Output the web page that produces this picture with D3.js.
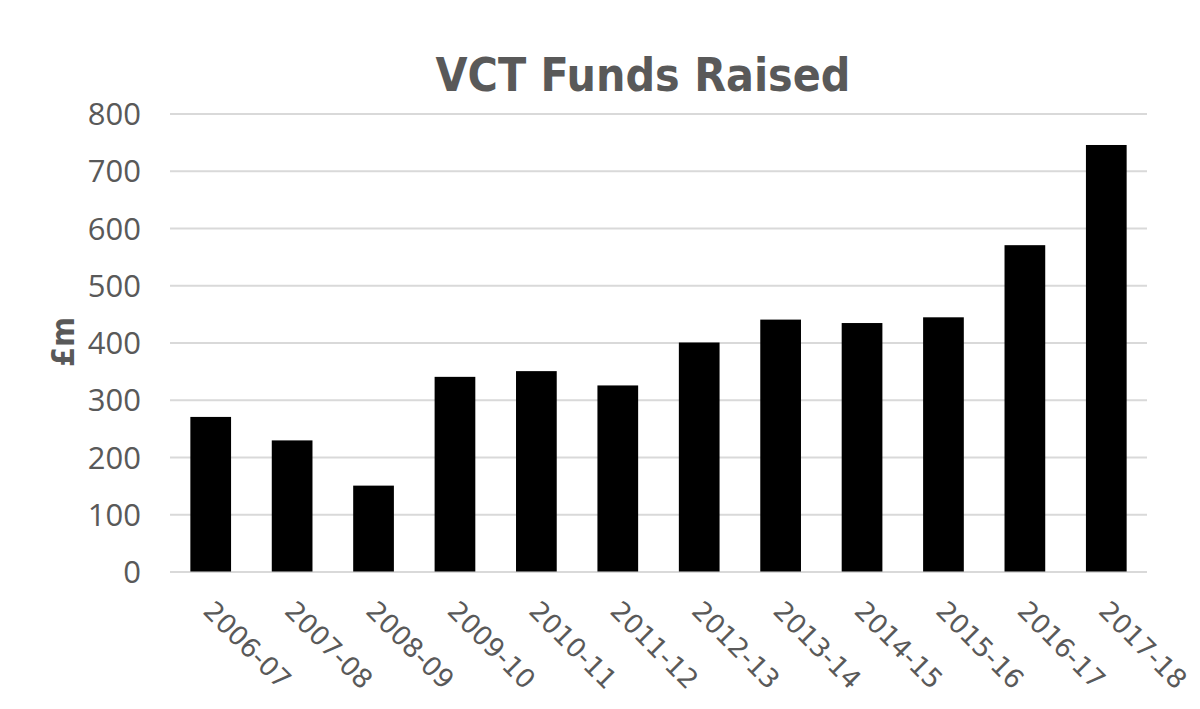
<!DOCTYPE html>
<html>
<head>
<meta charset="utf-8">
<script src="https://cdn.jsdelivr.net/npm/d3@7"></script>
<style>
  body { margin: 0; background: #fff; }
  .y-axis text { font-family: "Open Sans", sans-serif; font-size: 31px; fill: #595959; }
  .x-axis text { font-family: "DejaVu Sans", sans-serif; font-size: 26.5px; fill: #595959; }
</style>
</head>
<body>
<div id="chart"></div>
<script>
// chart data
var years = ["2006-07", "2007-08", "2008-09", "2009-10", "2010-11", "2011-12",
  "2012-13", "2013-14", "2014-15", "2015-16", "2016-17", "2017-18"];
var fundsRaised = [270, 229, 150, 340, 350, 325, 400, 440, 434, 444, 570, 745];
var yTicks = [0, 100, 200, 300, 400, 500, 600, 700, 800];

var svgWidth = 1200;
var svgHeight = 709;

var margin = {
  top: 113.5,
  right: 53,
  bottom: 137.5,
  left: 170
};

var width = svgWidth - margin.left - margin.right;
var height = svgHeight - margin.top - margin.bottom;

var svg = d3.select("#chart")
  .append("svg")
  .attr("width", svgWidth)
  .attr("height", svgHeight);

var chartGroup = svg.append("g")
  .attr("transform", `translate(${margin.left}, ${margin.top})`);

var xBandScale = d3.scaleBand()
  .domain(years)
  .range([0, width])
  .paddingInner(0.5)
  .paddingOuter(0.25);

var yLinearScale = d3.scaleLinear()
  .domain([0, 800])
  .range([height, 0]);

// gridlines + y labels
var leftAxis = d3.axisLeft(yLinearScale)
  .tickValues(yTicks)
  .tickSize(-width)
  .tickPadding(29);

var yAxis = chartGroup.append("g")
  .attr("class", "y-axis")
  .call(leftAxis);
yAxis.select(".domain").remove();
yAxis.selectAll("line")
  .attr("stroke", "#d9d9d9")
  .attr("stroke-width", 2.2);
yAxis.selectAll("text").attr("dy", "0.36em");

// bars
chartGroup.selectAll("rect")
  .data(fundsRaised)
  .enter()
  .append("rect")
  .attr("x", (d, i) => xBandScale(years[i]))
  .attr("y", d => yLinearScale(d))
  .attr("width", xBandScale.bandwidth())
  .attr("height", d => height - yLinearScale(d))
  .attr("fill", "#000");

// x axis, rotated labels
var bottomAxis = d3.axisBottom(xBandScale).tickSize(0);
var xAxis = chartGroup.append("g")
  .attr("class", "x-axis")
  .attr("transform", `translate(0, ${height})`)
  .call(bottomAxis);
xAxis.select(".domain").remove();
xAxis.selectAll("text")
  .attr("x", 0)
  .attr("y", 0)
  .attr("dy", 0)
  .style("text-anchor", "start")
  .attr("transform", "translate(-9, 41) rotate(45)");

// title
svg.append("text")
  .attr("x", 643)
  .attr("y", 91)
  .attr("text-anchor", "middle")
  .style("font-family", "'DejaVu Sans Condensed', 'DejaVu Sans', sans-serif")
  .style("font-weight", "bold")
  .style("font-size", "46px")
  .style("fill", "#595959")
  .text("VCT Funds Raised");

// y axis title
svg.append("text")
  .attr("transform", "rotate(-90)")
  .attr("x", -342)
  .attr("y", 74)
  .attr("text-anchor", "middle")
  .style("font-family", "'DejaVu Sans Condensed', 'DejaVu Sans', sans-serif")
  .style("font-weight", "bold")
  .style("font-size", "32px")
  .style("fill", "#595959")
  .text("£m");
</script>
</body>
</html>
